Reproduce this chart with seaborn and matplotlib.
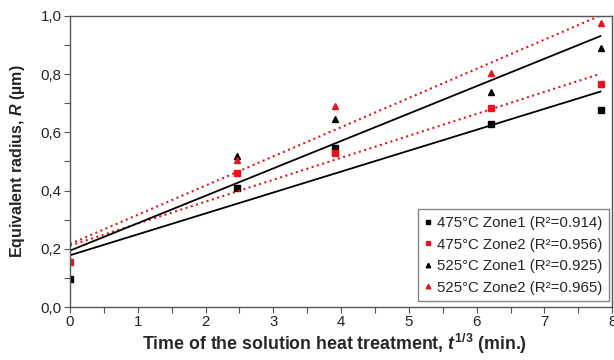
import numpy as np
import pandas as pd
import matplotlib
matplotlib.use("Agg")
import matplotlib.pyplot as plt
import seaborn as sns
from matplotlib.ticker import MultipleLocator, FuncFormatter

# ---- data ----
t_cbrt = [0.0, 2.47, 3.91, 6.21, 7.83]          # t^(1/3), min
r_475_z1 = [0.096, 0.41, 0.545, 0.63, 0.675]
r_475_z2 = [0.155, 0.46, 0.53, 0.685, 0.765]
r_525_z1 = [0.096, 0.52, 0.645, 0.74, 0.89]
r_525_z2 = [0.155, 0.505, 0.69, 0.805, 0.975]
labels = ["475°C Zone1 (R²=0.914)", "475°C Zone2 (R²=0.956)",
          "525°C Zone1 (R²=0.925)", "525°C Zone2 (R²=0.965)"]
x_ticks = [0, 1, 2, 3, 4, 5, 6, 7, 8]
y_ticks = [0.0, 0.2, 0.4, 0.6, 0.8, 1.0]

RED = "#e8141c"
series = [
    (r_475_z1, "black", "s", "-", True),
    (r_475_z2, RED, "s", ":", True),
    (r_525_z1, "black", "^", "-", False),
    (r_525_z2, RED, "^", ":", False),
]

sns.set_theme(style="white")
plt.rcParams["font.family"] = ["Liberation Sans", "DejaVu Sans"]
plt.rcParams["mathtext.fontset"] = "custom"
plt.rcParams["mathtext.rm"] = "Liberation Sans:bold"
plt.rcParams["mathtext.it"] = "Liberation Sans:bold:italic"
plt.rcParams["mathtext.bf"] = "Liberation Sans:bold"

fig = plt.figure(figsize=(6.14, 3.60), dpi=100)
ax = fig.add_axes([0.114, 0.147, 0.883, 0.809])

x = np.array(t_cbrt)
for (vals, col, mk, ls, show0), lab in zip(series, labels):
    y = np.array(vals)
    slope, icpt = np.polyfit(x, y, 1)
    xf = np.array([x.min(), x.max()])
    fit = pd.DataFrame({"x": xf, "y": icpt + slope * xf})
    sns.lineplot(data=fit, x="x", y="y", ax=ax, color=col, linestyle=ls,
                 linewidth=1.5 if ls == ":" else 1.3, legend=False)
    df = pd.DataFrame({"x": x, "y": y})
    if not show0:
        df = df[df["x"] > 0]
    ax.plot(df["x"], df["y"], linestyle="none", marker=mk, color=col,
            markersize=5, label=lab)

ax.set_xlim(0, 8)
ax.set_ylim(0, 1.0)
ax.set_xticks(x_ticks)
ax.set_yticks(y_ticks)
ax.xaxis.set_minor_locator(MultipleLocator(0.5))
ax.yaxis.set_minor_locator(MultipleLocator(0.1))
ax.yaxis.set_major_formatter(FuncFormatter(lambda v, p: f"{v:.1f}".replace(".", ",")))
ax.tick_params(which="both", direction="out", length=4, width=0.8,
               color="#555555", labelsize=10.8, labelcolor="#222222",
               bottom=True, left=True, pad=2)

for s in ax.spines.values():
    s.set_color("#555555")
    s.set_linewidth(1.0)

ax.set_xlabel(r"Time of the solution heat treatment, $t^{\mathrm{1/3}}$ (min.)",
              fontsize=12.8, fontweight="bold", labelpad=5)
ax.xaxis.set_label_coords(0.487, -0.085)
ax.set_ylabel(r"Equivalent radius, $R$ (µm)", fontsize=11.5, fontweight="bold",
              labelpad=10)

leg = ax.legend(loc="lower right", fontsize=10.8, frameon=True, fancybox=False,
                edgecolor="#666666", handlelength=0.4, handletextpad=0.45,
                borderpad=0.45, labelspacing=0.5, markerscale=0.65,
                borderaxespad=0.0, bbox_to_anchor=(0.995, 0.02))
leg.get_frame().set_linewidth(1.0)

fig.savefig("out.png", dpi=100)
